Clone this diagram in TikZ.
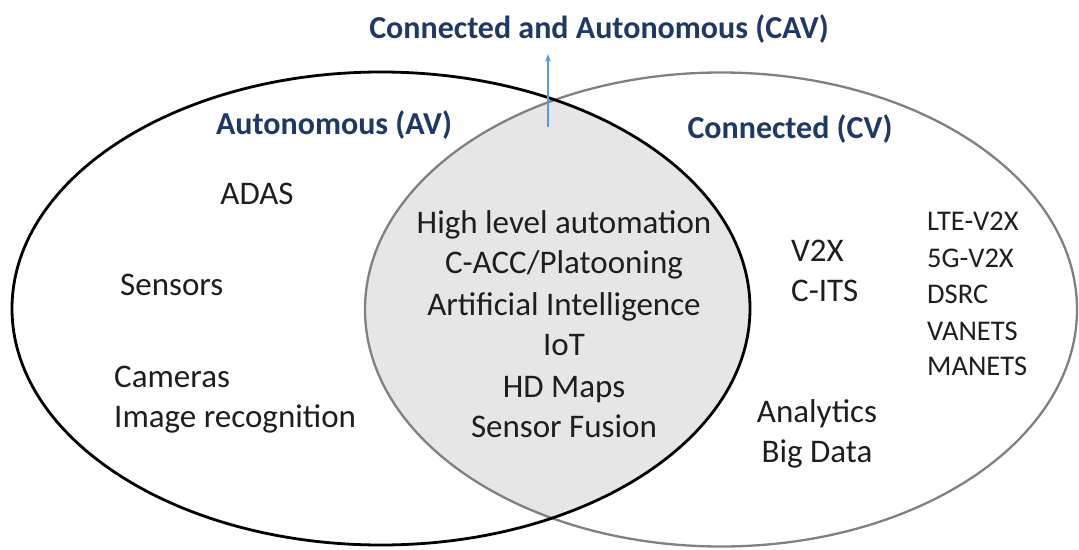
\documentclass[tikz,border=0pt]{standalone}
\usepackage{fontspec}
\setmainfont{Carlito}
\usetikzlibrary{arrows.meta}
\definecolor{navy}{RGB}{31,56,100}
\definecolor{txt}{RGB}{30,30,30}
\definecolor{arrowblue}{RGB}{91,155,213}
\definecolor{ovl}{RGB}{230,230,230}
\definecolor{cvline}{RGB}{128,128,128}
\tikzset{
  lbl/.style={inner sep=0pt, text=txt, font=\fontsize{33}{40}\selectfont, text height=0.62em, text depth=0pt, yshift=-7pt},
  sml/.style={lbl, font=\fontsize{28.5}{34}\selectfont},
  head/.style={inner sep=0pt, text=navy, font=\bfseries\fontsize{32}{38}\selectfont, text height=0.62em, text depth=0pt, yshift=-7pt},
}
\begin{document}
\begin{tikzpicture}[x=1pt,y=-1pt]
\useasboundingbox (0,0) rectangle (1079,549);
% overlap fill
\begin{scope}
  \clip (381,308.5) ellipse [x radius=369, y radius=236.5];
  \fill[ovl] (721,309.5) ellipse [x radius=356, y radius=237];
\end{scope}
\draw[cvline, line width=2.3pt] (721,309.5) ellipse [x radius=356, y radius=237];
\draw[black, line width=2.8pt] (381,308.5) ellipse [x radius=369, y radius=236.5];
% headings
\node[head] (cav) at (599,28) {Connected and Autonomous (CAV)};
\node[head] (av) at (334,124) {Autonomous (AV)};
\node[head] (cv) at (790,128) {Connected (CV)};
\coordinate (arrS) at (548,127);
\coordinate (arrE) at (548,54);
\draw[arrowblue, line width=1.1pt, -{Stealth[length=8pt,width=6pt]}] (arrS) -- (arrE);
% AV
\node[lbl] (adas) at (257,194) {ADAS};
\node[lbl, anchor=west] (sens) at (120,285) {Sensors};
\node[lbl, anchor=west] (cam) at (114,377) {Cameras};
\node[lbl, anchor=west] (img) at (114,417) {Image recognition};
% overlap
\node[lbl] (hla) at (564,223) {High level automation};
\node[lbl] (cacc) at (564,263) {C-ACC/Platooning};
\node[lbl] (ai) at (564,305) {Artificial Intelligence};
\node[lbl] (iot) at (564,345) {IoT};
\node[lbl] (hd) at (564,387) {HD Maps};
\node[lbl] (sf) at (564,427) {Sensor Fusion};
% CV
\node[lbl, anchor=west] (v2x) at (791,251) {V2X};
\node[lbl, anchor=west] (cits) at (791,291) {C-ITS};
\node[lbl] (anl) at (817,412) {Analytics};
\node[lbl] (bd) at (817,452) {Big Data};
\node[sml, anchor=west] (lte) at (927,220) {LTE-V2X};
\node[sml, anchor=west] (g5) at (927,257) {5G-V2X};
\node[sml, anchor=west] (dsrc) at (927,293) {DSRC};
\node[sml, anchor=west] (van) at (927,330) {VANETS};
\node[sml, anchor=west] (man) at (927,365) {MANETS};
\end{tikzpicture}
\end{document}
